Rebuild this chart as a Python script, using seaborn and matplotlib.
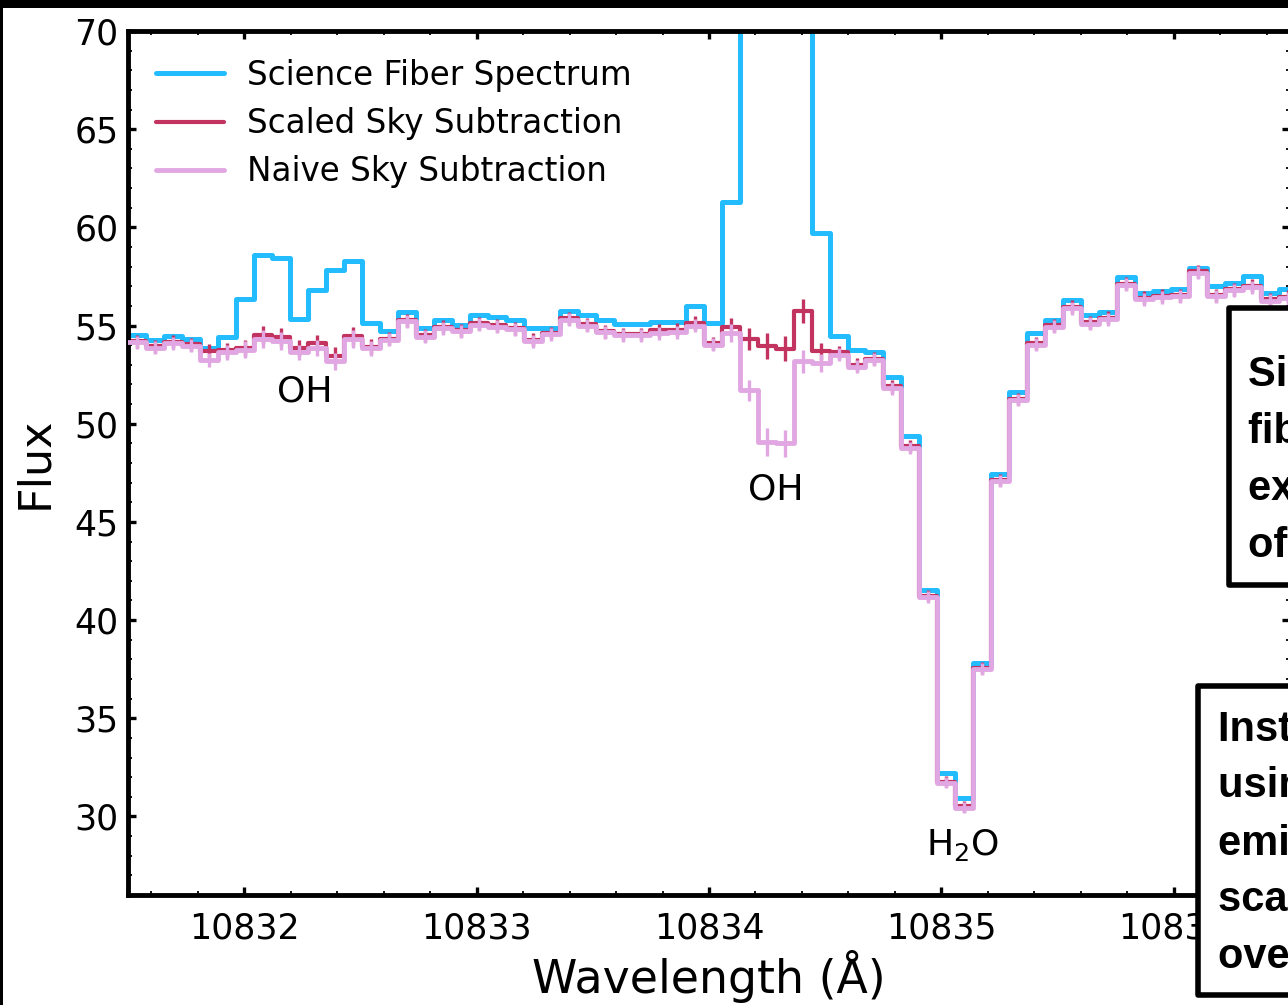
import numpy as np
import pandas as pd
import matplotlib
matplotlib.use("Agg")
import matplotlib.pyplot as plt
import seaborn as sns
from matplotlib.patches import Rectangle
from matplotlib.ticker import MultipleLocator, ScalarFormatter

# ---------------- data ----------------
wavelength = [
    10831.4613, 10831.5387, 10831.6161, 10831.6935, 10831.7709, 10831.8483, 10831.9257,
    10832.0031, 10832.0805, 10832.1579, 10832.2353, 10832.3127, 10832.3901, 10832.4675,
    10832.5449, 10832.6223, 10832.6997, 10832.7771, 10832.8545, 10832.9319, 10833.0093,
    10833.0867, 10833.1641, 10833.2415, 10833.3189, 10833.3963, 10833.4737, 10833.5511,
    10833.6285, 10833.7059, 10833.7833, 10833.8607, 10833.9381, 10834.0155, 10834.0929,
    10834.1703, 10834.2477, 10834.3251, 10834.4025, 10834.4799, 10834.5573, 10834.6347,
    10834.7121, 10834.7895, 10834.8669, 10834.9443, 10835.0217, 10835.0991, 10835.1765,
    10835.2539, 10835.3313, 10835.4087, 10835.4861, 10835.5635, 10835.6409, 10835.7183,
    10835.7957, 10835.8731, 10835.9505, 10836.0279, 10836.1053, 10836.1827, 10836.2601,
    10836.3375, 10836.4149, 10836.4923,
]

science_flux = [
    54.50, 54.53, 54.27, 54.49, 54.33, 53.85, 54.40,
    56.36, 58.57, 58.46, 55.34, 56.82, 57.84, 58.31,
    55.12, 54.70, 55.68, 54.87, 55.29, 55.04, 55.55,
    55.46, 55.30, 54.90, 54.90, 55.75, 55.55, 55.30,
    55.10, 55.10, 55.16, 55.16, 56.00, 55.12, 61.28,
    78.00, 92.00, 95.00, 76.00, 59.70, 54.48, 53.77,
    53.63, 52.38, 49.38, 41.52, 32.19, 30.93, 37.82,
    47.44, 51.64, 54.61, 55.29, 56.28, 55.55, 55.67,
    57.45, 56.67, 56.76, 56.88, 57.95, 57.00, 57.18,
    57.52, 56.68, 56.85,
]

scaled_flux = [
    54.22, 54.21, 53.95, 54.17, 54.04, 53.70, 53.73,
    53.85, 54.53, 54.44, 53.85, 54.10, 53.46, 54.48,
    53.93, 54.34, 55.28, 54.51, 54.94, 54.77, 55.11,
    55.02, 54.87, 54.27, 54.62, 55.37, 55.07, 54.72,
    54.57, 54.57, 54.75, 54.78, 55.12, 54.10, 54.95,
    54.31, 53.97, 53.82, 55.75, 53.68, 53.63, 53.00,
    53.31, 51.90, 48.85, 41.25, 31.78, 30.51, 37.58,
    47.14, 51.26, 54.09, 55.02, 55.96, 55.16, 55.40,
    57.14, 56.41, 56.52, 56.55, 57.77, 56.55, 56.86,
    57.03, 56.34, 56.47,
]

naive_flux = [
    54.15, 54.14, 53.88, 54.10, 53.97, 53.26, 53.63,
    53.77, 54.31, 54.19, 53.63, 53.85, 53.17, 54.33,
    53.85, 54.27, 55.21, 54.44, 54.87, 54.70, 55.04,
    54.95, 54.80, 54.20, 54.55, 55.30, 55.00, 54.65,
    54.50, 54.50, 54.61, 54.65, 55.00, 54.02, 54.61,
    51.70, 49.07, 49.00, 53.17, 53.09, 53.51, 52.89,
    53.26, 51.81, 48.76, 41.18, 31.71, 30.44, 37.51,
    47.07, 51.19, 54.02, 54.95, 55.89, 55.09, 55.33,
    57.07, 56.34, 56.45, 56.48, 57.70, 56.48, 56.79,
    56.96, 56.27, 56.40,
]

scaled_err = [
    0.33, 0.33, 0.33, 0.33, 0.33, 0.35, 0.38,
    0.42, 0.46, 0.46, 0.40, 0.42, 0.44, 0.45,
    0.38, 0.33, 0.33, 0.33, 0.33, 0.33, 0.33,
    0.33, 0.33, 0.33, 0.33, 0.33, 0.33, 0.33,
    0.33, 0.33, 0.33, 0.33, 0.35, 0.33, 0.45,
    0.55, 0.65, 0.65, 0.60, 0.45, 0.33, 0.33,
    0.33, 0.33, 0.30, 0.30, 0.28, 0.28, 0.30,
    0.30, 0.30, 0.33, 0.33, 0.33, 0.33, 0.33,
    0.33, 0.33, 0.33, 0.33, 0.33, 0.33, 0.33,
    0.33, 0.33, 0.33,
]

naive_err = [
    0.33, 0.33, 0.33, 0.33, 0.33, 0.35, 0.38,
    0.42, 0.46, 0.46, 0.40, 0.42, 0.44, 0.45,
    0.38, 0.33, 0.33, 0.33, 0.33, 0.33, 0.33,
    0.33, 0.33, 0.33, 0.33, 0.33, 0.33, 0.33,
    0.33, 0.33, 0.33, 0.33, 0.35, 0.33, 0.45,
    0.55, 0.70, 0.70, 0.60, 0.45, 0.33, 0.33,
    0.33, 0.33, 0.30, 0.30, 0.28, 0.28, 0.30,
    0.30, 0.30, 0.33, 0.33, 0.33, 0.33, 0.33,
    0.33, 0.33, 0.33, 0.33, 0.33, 0.33, 0.33,
    0.33, 0.33, 0.33,
]

series_labels = ["Science Fiber Spectrum", "Scaled Sky Subtraction", "Naive Sky Subtraction"]
annotations = [("OH", 10832.261, 51.63), ("OH", 10834.287, 46.64), ("H$_2$O", 10835.091, 28.57)]
box_texts = [
    "Single sky\nfiber spectrum\nextracted from\nof the slit",
    "Instead, fit\nusing OH sky\nemission lines,\nscaled to match\noverall sky level",
]

# ---------------- style ----------------
sns.set_theme(style="ticks")
plt.rcParams["font.family"] = ["DejaVu Sans"]
plt.rcParams["text.color"] = "black"
plt.rcParams["axes.labelcolor"] = "black"
plt.rcParams["xtick.color"] = "black"
plt.rcParams["ytick.color"] = "black"

BLUE = "#22bcff"
CRIMSON = "#c2335f"
PINK = "#e1a7e3"

W, H = 1288, 1005
fig = plt.figure(figsize=(W / 100, H / 100), dpi=100)
fig.patch.set_facecolor("white")

ax_l, ax_r, ax_t, ax_b = 128, 1290, 31, 895
ax = fig.add_axes([ax_l / W, 1 - ax_b / H, (ax_r - ax_l) / W, (ax_b - ax_t) / H])

df = pd.DataFrame({
    "wavelength": wavelength,
    "science": science_flux,
    "scaled": scaled_flux,
    "naive": naive_flux,
    "scaled_err": scaled_err,
    "naive_err": naive_err,
})

sns.lineplot(data=df, x="wavelength", y="science", drawstyle="steps-mid", color=BLUE,
             lw=3.6, label=series_labels[0], ax=ax, zorder=1, estimator=None, sort=False)

ax.errorbar(df["wavelength"], df["scaled"], yerr=df["scaled_err"], fmt="none",
            ecolor=CRIMSON, elinewidth=2.4, capsize=0, zorder=2)
sns.lineplot(data=df, x="wavelength", y="scaled", drawstyle="steps-mid", color=CRIMSON,
             lw=3.0, label=series_labels[1], ax=ax, zorder=2, estimator=None, sort=False)

ax.errorbar(df["wavelength"], df["naive"], yerr=df["naive_err"], fmt="none",
            ecolor=PINK, elinewidth=2.4, capsize=0, zorder=3)
sns.lineplot(data=df, x="wavelength", y="naive", drawstyle="steps-mid", color=PINK,
             lw=3.5, label=series_labels[2], ax=ax, zorder=3, estimator=None, sort=False)

ax.set_xlim(10831.5, 10836.5)
ax.set_ylim(26, 70)
ax.xaxis.set_major_locator(MultipleLocator(1))
ax.xaxis.set_minor_locator(MultipleLocator(0.2))
ax.yaxis.set_major_locator(MultipleLocator(5))
ax.yaxis.set_minor_locator(MultipleLocator(1))
ax.xaxis.set_major_formatter(ScalarFormatter(useOffset=False))

for s in ax.spines.values():
    s.set_linewidth(3.5)
    s.set_color("black")

ax.tick_params(which="both", direction="in", top=True, right=True, colors="black")
ax.tick_params(which="major", length=6, width=2.4, labelsize=25)
ax.tick_params(which="minor", length=3, width=1.3)
ax.tick_params(axis="x", which="major", pad=12)
ax.tick_params(axis="y", which="major", pad=7)

ax.set_xlabel("Wavelength (Å)", fontsize=33, labelpad=3)
ax.set_ylabel("Flux", fontsize=32, labelpad=13)

ax.legend(loc="upper left", frameon=False, fontsize=23.5, handlelength=2.1,
          handletextpad=0.7, labelspacing=0.47, borderaxespad=0.45)

for txt, x, y in annotations:
    ax.text(x, y, txt, fontsize=26, ha="center", va="center", color="black")

# black frame remnants (figure border)
fig.add_artist(Rectangle((0, 1 - 8 / H), 1, 8 / H, transform=fig.transFigure,
                         facecolor="black", edgecolor="none", zorder=20))
fig.add_artist(Rectangle((0, 0), 3 / W, 1, transform=fig.transFigure,
                         facecolor="black", edgecolor="none", zorder=20))

# text boxes (cut by the right edge of the figure)
boxes = [(1228.5, 307.5, 584.5, 1248, 355), (1197.5, 685.5, 995.0, 1218, 709)]
for (bx, btop, bbot, tx, ttop), txt in zip(boxes, box_texts):
    fig.add_artist(Rectangle((bx / W, 1 - bbot / H), 0.3, (bbot - btop) / H,
                             transform=fig.transFigure, facecolor="white",
                             edgecolor="black", linewidth=4, joinstyle="round", zorder=15))
    fig.text(tx / W, 1 - ttop / H, txt, fontsize=30, fontweight="bold", color="black",
             family=["Liberation Sans", "DejaVu Sans"], ha="left", va="top",
             linespacing=1.55, zorder=16)

fig.savefig("out.png", dpi=100)
